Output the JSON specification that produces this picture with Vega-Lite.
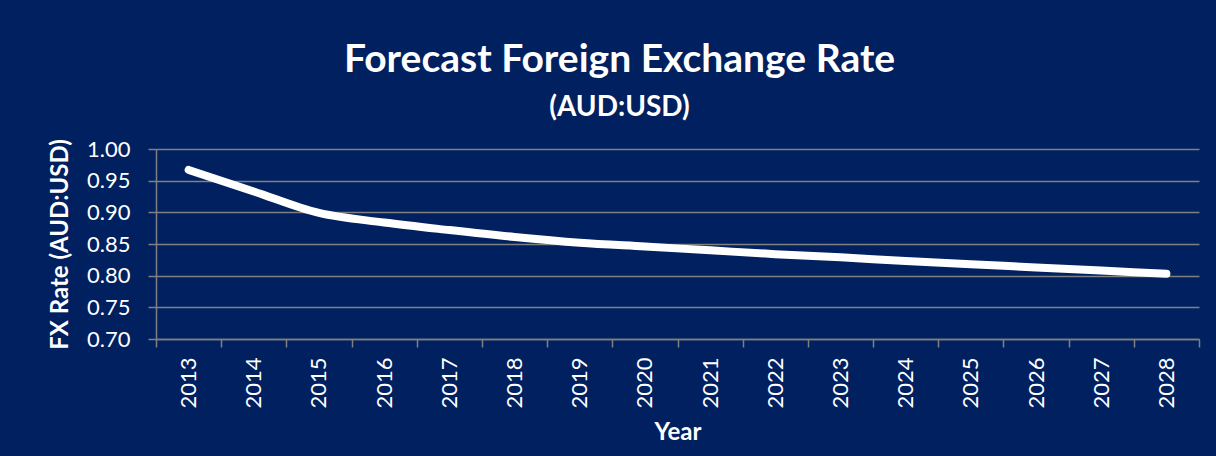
{
  "$schema": "https://vega.github.io/schema/vega-lite/v6.json",
  "width": 1043,
  "height": 190,
  "autosize": {"type": "none"},
  "padding": {"left": 156, "top": 149, "right": 17, "bottom": 117},
  "background": "#002060",
  "title": {
    "text": "Forecast Foreign Exchange Rate",
    "subtitle": "(AUD:USD)",
    "font": "Lato",
    "fontSize": 39,
    "fontWeight": "bold",
    "color": "white",
    "subtitleFont": "Lato",
    "subtitleFontSize": 28,
    "subtitleFontWeight": "bold",
    "subtitleColor": "white",
    "anchor": "middle",
    "dx": -58,
    "offset": 16,
    "subtitlePadding": 14
  },
  "data": {
    "values": [
      {"Year": "2013", "Rate": 0.967},
      {"Year": "2014", "Rate": 0.933},
      {"Year": "2015", "Rate": 0.899},
      {"Year": "2016", "Rate": 0.884},
      {"Year": "2017", "Rate": 0.872},
      {"Year": "2018", "Rate": 0.861},
      {"Year": "2019", "Rate": 0.852},
      {"Year": "2020", "Rate": 0.846},
      {"Year": "2021", "Rate": 0.840},
      {"Year": "2022", "Rate": 0.834},
      {"Year": "2023", "Rate": 0.829},
      {"Year": "2024", "Rate": 0.823},
      {"Year": "2025", "Rate": 0.818},
      {"Year": "2026", "Rate": 0.813},
      {"Year": "2027", "Rate": 0.808},
      {"Year": "2028", "Rate": 0.803}
    ]
  },
  "mark": {
    "type": "line",
    "color": "white",
    "strokeWidth": 8,
    "strokeCap": "round",
    "strokeJoin": "round",
    "interpolate": "monotone"
  },
  "encoding": {
    "x": {
      "field": "Year",
      "type": "ordinal",
      "bandPosition": 0.5,
      "scale": {"type": "band", "paddingInner": 0, "paddingOuter": 0},
      "axis": {
        "title": "Year",
        "labelAngle": -90,
        "tickBand": "extent",
        "labelFont": "Lato",
        "labelFontSize": 22,
        "labelColor": "white",
        "labelPadding": 10,
        "tickColor": "#808080",
        "tickWidth": 1.5,
        "tickSize": 8,
        "domainColor": "#808080",
        "domainWidth": 1.5,
        "grid": false,
        "titleFont": "Lato",
        "titleFontSize": 24,
        "titleFontWeight": "bold",
        "titleColor": "white",
        "titlePadding": 12
      }
    },
    "y": {
      "field": "Rate",
      "type": "quantitative",
      "scale": {"domain": [0.7, 1.0], "nice": false, "zero": false},
      "axis": {
        "title": "FX Rate (AUD:USD)",
        "values": [0.7, 0.75, 0.8, 0.85, 0.9, 0.95, 1.0],
        "format": ".2f",
        "labelFont": "Lato",
        "labelFontSize": 22,
        "labelColor": "white",
        "labelPadding": 18,
        "tickColor": "#808080",
        "tickWidth": 1.5,
        "tickSize": 8,
        "domainColor": "#808080",
        "domainWidth": 1.5,
        "grid": true,
        "gridColor": "#808080",
        "gridWidth": 1.5,
        "titleFont": "Lato",
        "titleFontSize": 24,
        "titleFontWeight": "bold",
        "titleColor": "white",
        "titlePadding": 14
      }
    }
  },
  "config": {"view": {"stroke": null}}
}
